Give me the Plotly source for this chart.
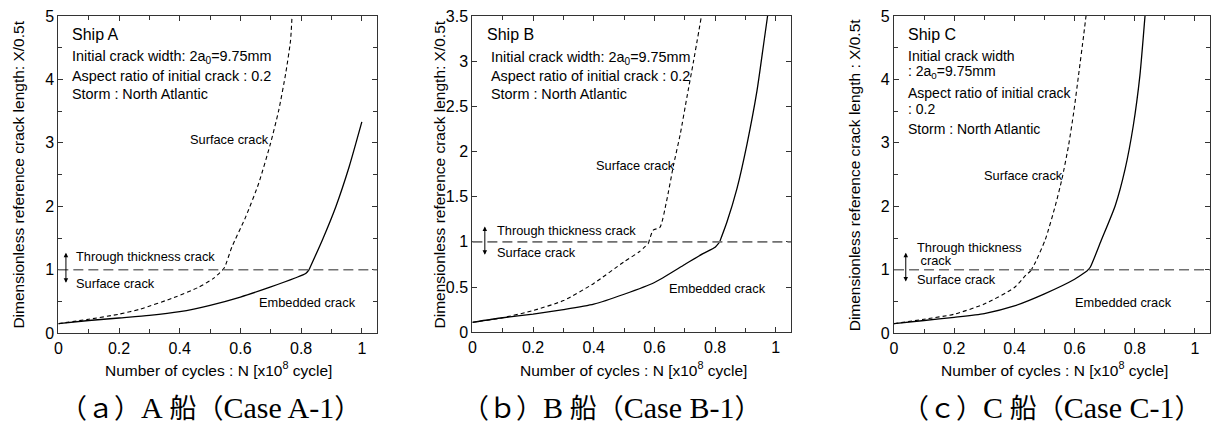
import plotly.graph_objects as go

# ---- crack growth curves (N in 1e8 cycles, X/0.5t) ----
# Ship A
a_surface_n = [0, 0.1, 0.2, 0.27, 0.38, 0.46, 0.51, 0.54, 0.548, 0.572, 0.617, 0.660, 0.699, 0.726, 0.749, 0.765, 0.770]
a_surface_v = [0.15, 0.22, 0.30, 0.38, 0.56, 0.72, 0.86, 0.99, 1.04, 1.36, 1.83, 2.36, 2.99, 3.51, 4.09, 4.61, 5.0]
a_embedded_n = [0, 0.1, 0.2, 0.3, 0.4, 0.5, 0.6, 0.7, 0.78, 0.815, 0.826, 0.870, 0.914, 0.958, 1.0]
a_embedded_v = [0.15, 0.20, 0.24, 0.28, 0.34, 0.44, 0.57, 0.73, 0.87, 0.94, 1.0, 1.47, 1.99, 2.62, 3.33]

# Ship B
b_surface_n = [0, 0.1, 0.2, 0.3, 0.4, 0.5, 0.55, 0.58, 0.596, 0.618, 0.64, 0.663, 0.685, 0.707, 0.729, 0.755]
b_surface_v = [0.11, 0.16, 0.24, 0.35, 0.54, 0.78, 0.89, 0.98, 1.13, 1.16, 1.45, 1.85, 2.19, 2.60, 3.0, 3.5]
b_embedded_n = [0, 0.1, 0.2, 0.3, 0.4, 0.5, 0.6, 0.7, 0.76, 0.8, 0.815, 0.839, 0.872, 0.905, 0.938, 0.96, 0.973]
b_embedded_v = [0.11, 0.16, 0.20, 0.25, 0.31, 0.42, 0.55, 0.75, 0.87, 0.94, 1.0, 1.22, 1.59, 2.08, 2.67, 3.19, 3.5]

# Ship C
c_surface_n = [0, 0.1, 0.2, 0.3, 0.4, 0.437, 0.454, 0.47, 0.503, 0.536, 0.558, 0.58, 0.597, 0.613, 0.63, 0.638]
c_surface_v = [0.15, 0.22, 0.30, 0.46, 0.72, 0.91, 0.98, 1.12, 1.48, 2.01, 2.43, 2.96, 3.48, 4.06, 4.69, 5.0]
c_embedded_n = [0, 0.1, 0.2, 0.3, 0.4, 0.5, 0.6, 0.641, 0.652, 0.69, 0.735, 0.768, 0.795, 0.817, 0.834]
c_embedded_v = [0.15, 0.20, 0.25, 0.31, 0.43, 0.62, 0.85, 0.98, 1.04, 1.48, 2.01, 2.59, 3.27, 4.06, 5.0]

# through-thickness threshold
through_level = 1.0

# ---- ticks ----
x_tickvals = [0, 0.2, 0.4, 0.6, 0.8, 1.0]
x_ticktext = ["0", "0.2", "0.4", "0.6", "0.8", "1"]
y5_tickvals = [0, 1, 2, 3, 4, 5]
y5_ticktext = ["0", "1", "2", "3", "4", "5"]
y35_tickvals = [0, 0.5, 1, 1.5, 2, 2.5, 3, 3.5]
y35_ticktext = ["0", "0.5", "1", "1.5", "2", "2.5", "3", "3.5"]

W, H = 1211, 427
# the page body keeps a small inset, so the figure lands in this window box
BOX_X0, BOX_W = 3.0, 1205.0
BOX_Y0, BOX_H = 8.0, 411.0
SANS = "Liberation Sans, Arial, sans-serif"
CAPTION_FONT = "Liberation Serif, Noto Sans CJK JP, serif"


def fx(px):
    """window pixel column -> paper fraction"""
    return min(1.0, max(0.0, (px - BOX_X0) / BOX_W))


def fy(py):
    """window pixel row (from top) -> paper fraction"""
    return min(1.0, max(0.0, 1 - (py - BOX_Y0) / BOX_H))


def split_at_kink(n, v, level):
    """Split a curve where it reaches the through-thickness level so each
    branch can be smoothed without rounding off the kink."""
    k = next(i for i, val in enumerate(v) if val >= level - 0.03)
    return (n[:k + 1], v[:k + 1]), (n[k:], v[k:])


def caption(letter, ship, case):
    big = '<span style="font-size:30px">'
    return f"（{letter}）{big}{ship}</span> 船（{big}Case {case}</span>）"


panels = [
    dict(
        surf=(a_surface_n, a_surface_v), emb=(a_embedded_n, a_embedded_v),
        xpx=(57.3, 375.7), ypx=(16, 334), yrange=5,
        yticks=(y5_tickvals, y5_ticktext), yminor=0.5,
        ytitle="Dimensionless reference crack length: X/0.5t",
        ytitle_x=18, xtitle_x=217, caption=caption("ａ", "A", "A-1"), caption_x=209,
        info=[("Ship A", 0.039, 4.71, 16),
              ("Initial crack width: 2a<sub>0</sub>=9.75mm", 0.039, 4.35, 14.4),
              ("Aspect ratio of initial crack : 0.2", 0.039, 4.06, 14.4),
              ("Storm : North Atlantic", 0.039, 3.77, 14.4)],
        labels=[("Surface crack", 0.428, 3.05),
                ("Through thickness crack", 0.052, 1.21),
                ("Surface crack", 0.052, 0.79),
                ("Embedded crack", 0.654, 0.49)],
        arrow=(0.025, 1.27, 0.77),
    ),
    dict(
        surf=(b_surface_n, b_surface_v), emb=(b_embedded_n, b_embedded_v),
        xpx=(471.0, 789.3), ypx=(16, 333), yrange=3.5,
        yticks=(y35_tickvals, y35_ticktext), yminor=None,
        ytitle="Dimensionless reference crack length: X/0.5t",
        ytitle_x=438, xtitle_x=632, caption=caption("ｂ", "B", "B-1"), caption_x=610,
        info=[("Ship B", 0.041, 3.29, 16),
              ("Initial crack width: 2a<sub>0</sub>=9.75mm", 0.055, 3.04, 14.4),
              ("Aspect ratio of initial crack : 0.2", 0.055, 2.84, 14.4),
              ("Storm : North Atlantic", 0.055, 2.64, 14.4)],
        labels=[("Surface crack", 0.401, 1.84),
                ("Through thickness crack", 0.074, 1.13),
                ("Surface crack", 0.074, 0.886),
                ("Embedded crack", 0.642, 0.48)],
        arrow=(0.041, 1.17, 0.84),
    ),
    dict(
        surf=(c_surface_n, c_surface_v), emb=(c_embedded_n, c_embedded_v),
        xpx=(892.3, 1210.0), ypx=(16, 334), yrange=5,
        yticks=(y5_tickvals, y5_ticktext), yminor=0.5,
        ytitle="Dimensionless reference crack length : X/0.5t",
        ytitle_x=853, xtitle_x=1053, caption=caption("ｃ", "C", "C-1"), caption_x=1050,
        info=[("Ship C", 0.040, 4.71, 16),
              ("Initial crack width", 0.040, 4.37, 14),
              (": 2a<sub>0</sub>=9.75mm", 0.040, 4.11, 14),
              ("Aspect ratio of initial crack", 0.040, 3.79, 14),
              (": 0.2", 0.040, 3.53, 14),
              ("Storm : North Atlantic", 0.040, 3.22, 14)],
        labels=[("Surface crack", 0.293, 2.49),
                ("Through thickness", 0.069, 1.35),
                (" crack", 0.069, 1.14),
                ("Surface crack", 0.069, 0.84),
                ("Embedded crack", 0.595, 0.49)],
        arrow=(0.039, 1.27, 0.79),
    ),
]

fig = go.Figure()
layout = {}
annotations = []
shapes = []

for i, p in enumerate(panels, start=1):
    xa = "x" if i == 1 else f"x{i}"
    ya = "y" if i == 1 else f"y{i}"
    xkey = "xaxis" if i == 1 else f"xaxis{i}"
    ykey = "yaxis" if i == 1 else f"yaxis{i}"

    # surface crack (short dashes) and embedded crack (solid)
    for seg in split_at_kink(*p["surf"], through_level):
        fig.add_trace(go.Scatter(
            x=seg[0], y=seg[1], mode="lines", xaxis=xa, yaxis=ya,
            line=dict(color="black", width=1.1, dash="4px,3px", shape="spline", smoothing=0.6),
            showlegend=False))
    for seg in split_at_kink(*p["emb"], through_level):
        fig.add_trace(go.Scatter(
            x=seg[0], y=seg[1], mode="lines", xaxis=xa, yaxis=ya,
            line=dict(color="black", width=1.3, shape="spline", smoothing=0.6),
            showlegend=False))

    axis_common = dict(
        showline=True, linecolor="#333333", linewidth=1.2, mirror="allticks",
        ticks="inside", ticklen=5, tickwidth=1, tickcolor="#333333",
        showgrid=False, zeroline=False, fixedrange=True,
        ticklabeloverflow="allow",
        tickfont=dict(family=SANS, size=16, color="black"),
    )
    layout[xkey] = dict(
        axis_common, domain=[fx(p["xpx"][0]), fx(p["xpx"][1])], anchor=ya,
        range=[0, 1.05], tickmode="array", tickvals=x_tickvals, ticktext=x_ticktext,
        minor=dict(tickmode="linear", tick0=0, dtick=0.1, ticks="inside",
                   ticklen=4, tickcolor="#333333"),
    )
    ydict = dict(
        axis_common, domain=[fy(p["ypx"][1]), fy(p["ypx"][0])], anchor=xa,
        range=[0, p["yrange"]], tickmode="array",
        tickvals=p["yticks"][0], ticktext=p["yticks"][1],
    )
    if p["yminor"]:
        ydict["minor"] = dict(tickmode="linear", tick0=0, dtick=p["yminor"],
                              ticks="inside", ticklen=4, tickcolor="#333333")
    layout[ykey] = ydict

    # boundary between surface and through-thickness cracks
    shapes.append(dict(
        type="line", xref=f"{xa} domain", yref=ya, x0=0, x1=1,
        y0=through_level, y1=through_level,
        line=dict(color="#707070", width=1.6, dash="10px,5px")))

    # double-headed arrow
    ax_x, ay_top, ay_bot = p["arrow"]
    annotations.append(dict(
        xref=xa, yref=ya, axref=xa, ayref=ya, x=ax_x, y=ay_top, ax=ax_x, ay=ay_bot,
        text="", showarrow=True, arrowhead=2, arrowside="end+start",
        arrowsize=0.9, arrowwidth=1, arrowcolor="black"))

    for txt, tx, ty, size in p["info"]:
        annotations.append(dict(
            xref=xa, yref=ya, x=tx, y=ty, text=txt, showarrow=False,
            xanchor="left", yanchor="middle",
            font=dict(family=SANS, size=size, color="black")))
    for txt, tx, ty in p["labels"]:
        annotations.append(dict(
            xref=xa, yref=ya, x=tx, y=ty, text=txt, showarrow=False,
            xanchor="left", yanchor="middle",
            font=dict(family=SANS, size=12.8, color="black")))

    # axis titles
    ymid = (p["ypx"][0] + p["ypx"][1]) / 2
    annotations.append(dict(
        xref="paper", yref="paper", x=fx(p["ytitle_x"]), y=fy(ymid),
        text=p["ytitle"], textangle=-90, showarrow=False,
        xanchor="center", yanchor="middle",
        font=dict(family=SANS, size=15.5, color="black")))
    annotations.append(dict(
        xref="paper", yref="paper", x=fx(p["xtitle_x"]), y=fy(370),
        text="Number of cycles : N [x10<sup>8</sup> cycle]", showarrow=False,
        xanchor="center", yanchor="middle",
        font=dict(family=SANS, size=15.5, color="black")))
    # panel caption
    annotations.append(dict(
        xref="paper", yref="paper", x=fx(p["caption_x"]), y=fy(408),
        text=p["caption"], showarrow=False, xanchor="center", yanchor="middle",
        font=dict(family=CAPTION_FONT, size=27, color="black")))

fig.update_layout(
    width=W, height=H, margin=dict(l=0, r=0, t=0, b=0),
    paper_bgcolor="white", plot_bgcolor="white",
    annotations=annotations, shapes=shapes, showlegend=False,
    **layout,
)

fig.write_html("out.html", config={"displayModeBar": False})
